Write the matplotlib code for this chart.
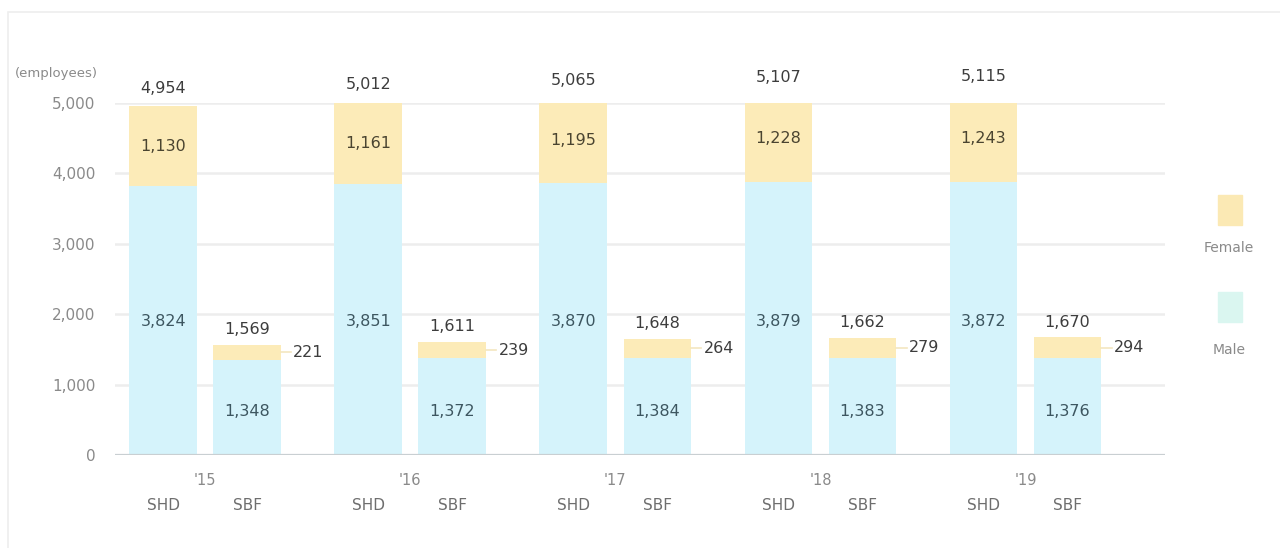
import numpy as np
import matplotlib.pyplot as plt
from matplotlib.patches import Rectangle

## DATA ----------------
years = ["'15", "'16", "'17", "'18", "'19"]
companies = ["SHD", "SBF"]

shd_male = [3824, 3851, 3870, 3879, 3872]
shd_female = [1130, 1161, 1195, 1228, 1243]
shd_total = [4954, 5012, 5065, 5107, 5115]

sbf_male = [1348, 1372, 1384, 1383, 1376]
sbf_female = [221, 239, 264, 279, 294]
sbf_total = [1569, 1611, 1648, 1662, 1670]

y_ticks = [0, 1000, 2000, 3000, 4000, 5000]

## STYLE ----------------
plt.rcParams['font.family'] = ['DejaVu Sans']
male_color = '#d5f3fb'
female_color = '#fcebb8'
grid_color = '#ededed'
tick_color = '#8a8a8a'

fig = plt.figure(figsize=(12.8, 5.48), dpi=100)
ax = fig.add_axes([0.0898, 0.1697, 0.8203, 0.6423])

# faint panel frame
fig.patches.append(Rectangle((0.006, -0.01), 1.0, 0.988, transform=fig.transFigure,
                             fill=False, edgecolor='#eeeeee', linewidth=1.2))

x = np.arange(len(years))
offset, width = 0.205, 0.33
x_shd = x - offset
x_sbf = x + offset

# gridlines behind the bars
for t in y_ticks[1:]:
    ax.axhline(t, color=grid_color, linewidth=1.8, zorder=0)
ax.axhline(0, color='#c9cfd2', linewidth=1.6, zorder=3)

ax.bar(x_shd, shd_male, width, color=male_color, zorder=2)
ax.bar(x_shd, shd_female, width, bottom=shd_male, color=female_color, zorder=2)
ax.bar(x_sbf, sbf_male, width, color=male_color, zorder=2)
ax.bar(x_sbf, sbf_female, width, bottom=sbf_male, color=female_color, zorder=2)

ax.set_xlim(-0.44, 4.68)
ax.set_ylim(0, 5000)
ax.set_yticks(y_ticks)
ax.set_yticklabels([f'{t:,}' for t in y_ticks], color=tick_color, fontsize=11)
ax.tick_params(axis='y', length=0, pad=14)
ax.set_xticks([])
for s in ax.spines.values():
    s.set_visible(False)

fig.text(0.012, 0.865, '(employees)', color=tick_color, fontsize=9.5, ha='left', va='center')

total_color = '#3d3d3d'
female_txt = '#4a4430'
male_txt = '#3d5660'
fs = 11.5

for i in range(len(years)):
    # SHD labels
    ax.annotate(f'{shd_total[i]:,}', (x_shd[i], shd_total[i]), xytext=(0, 13),
                textcoords='offset points', ha='center', va='center',
                color=total_color, fontsize=fs, annotation_clip=False)
    ax.text(x_shd[i], shd_male[i] + shd_female[i] / 2, f'{shd_female[i]:,}',
            ha='center', va='center', color=female_txt, fontsize=fs, zorder=4)
    ax.text(x_shd[i], 1890, f'{shd_male[i]:,}', ha='center', va='center',
            color=male_txt, fontsize=fs, zorder=4)

    # SBF labels
    ax.annotate(f'{sbf_total[i]:,}', (x_sbf[i], sbf_total[i]), xytext=(0, 11),
                textcoords='offset points', ha='center', va='center',
                color=total_color, fontsize=fs)
    mid = sbf_male[i] + sbf_female[i] / 2
    ax.plot([x_sbf[i] + width / 2, x_sbf[i] + width / 2 + 0.05], [mid, mid],
            color='#f3e6c0', linewidth=1.2, zorder=2)
    ax.text(x_sbf[i] + width / 2 + 0.06, mid, f'{sbf_female[i]:,}',
            ha='left', va='center', color=total_color, fontsize=fs)
    ax.text(x_sbf[i], 620, f'{sbf_male[i]:,}', ha='center', va='center',
            color=male_txt, fontsize=fs, zorder=4)

    # category labels under the baseline
    ax.annotate(years[i], (x[i], 0), xytext=(0, -18), textcoords='offset points',
                ha='center', va='center', color=tick_color, fontsize=10.5,
                annotation_clip=False)
    for xx, name in zip([x_shd[i], x_sbf[i]], companies):
        ax.annotate(name, (xx, 0), xytext=(0, -36), textcoords='offset points',
                    ha='center', va='center', color='#6e6e6e', fontsize=11,
                    annotation_clip=False)

# legend on the right
fig.patches.append(Rectangle((1218 / 1280, 1 - 225 / 548), 24 / 1280, 30 / 548,
                             transform=fig.transFigure, color='#fbe9b4'))
fig.text(1229 / 1280, 1 - 248 / 548, 'Female', color=tick_color, fontsize=10,
         ha='center', va='center')
fig.patches.append(Rectangle((1218 / 1280, 1 - 322 / 548), 24 / 1280, 30 / 548,
                             transform=fig.transFigure, color='#daf6f0'))
fig.text(1229 / 1280, 1 - 350 / 548, 'Male', color=tick_color, fontsize=10,
         ha='center', va='center')

fig.savefig('out.png', dpi=100, facecolor='white')
